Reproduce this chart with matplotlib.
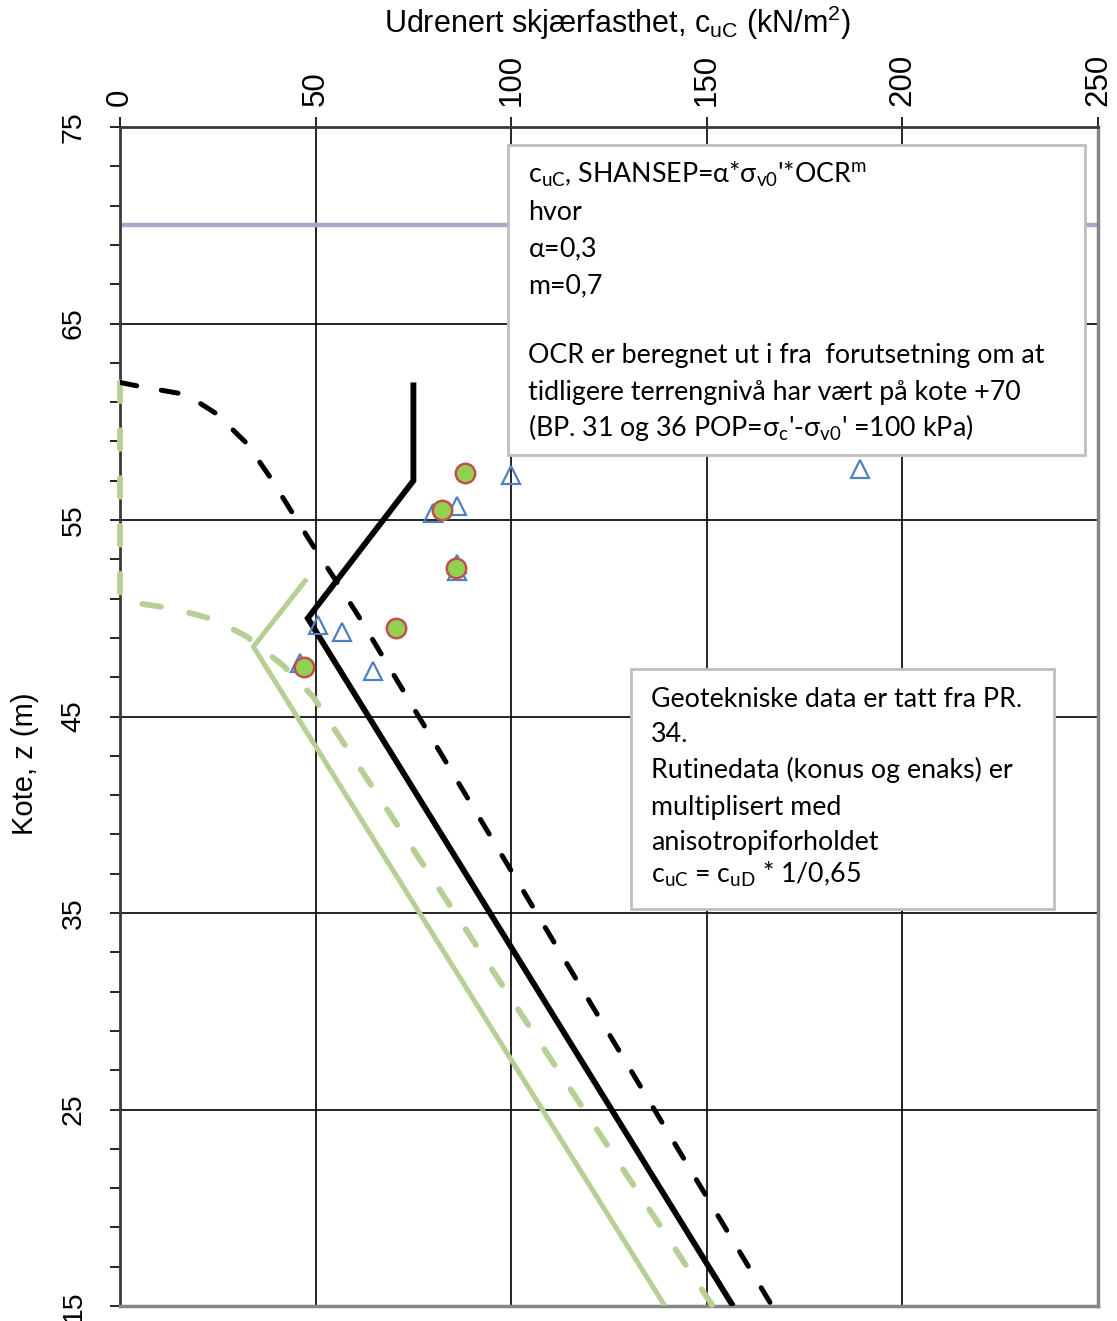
import matplotlib
matplotlib.use("Agg")
import matplotlib.pyplot as plt
from matplotlib.patches import Rectangle
from matplotlib.ticker import FixedLocator

plt.rcParams['mathtext.fontset'] = 'custom'
plt.rcParams['mathtext.default'] = 'regular'
plt.rcParams['mathtext.rm'] = 'Lato'

# ---------------- data ----------------
terrain_level = 70  # previous terrain level (kote)

shansep_x = [0, 5, 15, 20, 24.7, 32.4, 38.3, 44.1, 49.8, 55.4, 61.3, 166.7]
shansep_z = [62, 61.8, 61.45, 61.0, 60.4, 58.9, 57.2, 55.35, 53.55, 51.85, 50.0, 15]

design_x = [75, 75, 48, 156.7]
design_z = [62, 57, 50, 15]

green_dashed_x = [0, 0, 3.4, 14.1, 24.3, 32.4, 41.7, 49.4, 151.5]
green_dashed_z = [62, 51.0, 50.8, 50.47, 49.92, 49.07, 47.6, 46.0, 15]

green_solid_x = [47.7, 34.1, 139.3]
green_solid_z = [52.0, 48.55, 15]

circle_x = [88.2, 82.2, 85.9, 70.6, 47.0]
circle_z = [57.4, 55.5, 52.55, 49.52, 47.53]

tri_x = [100, 189.2, 86.2, 80.1, 86.1, 86.1, 50.7, 56.8, 64.6, 46.0]
tri_z = [57.3, 57.6, 55.7, 55.35, 52.75, 52.4, 49.65, 49.3, 47.3, 47.7]

x_ticks = [0, 50, 100, 150, 200, 250]
y_ticks = [15, 25, 35, 45, 55, 65, 75]

box1_lines = [
    r"c$_{uC}$, SHANSEP=$\alpha$*$\sigma_{v0}$'*OCR$^{m}$",
    "hvor",
    r"$\alpha$=0,3",
    "m=0,7",
    "OCR er beregnet ut i fra  forutsetning om at",
    "tidligere terrengnivå har vært på kote +70",
    r"(BP. 31 og 36 POP=$\sigma_{c}$'-$\sigma_{v0}$' =100 kPa)",
]
box1_baselines_px = [183, 220, 257, 293, 363, 400, 436]

box2_lines = [
    "Geotekniske data er tatt fra PR.",
    "34.",
    "Rutinedata (konus og enaks) er",
    "multiplisert med",
    "anisotropiforholdet",
    r"c$_{uC}$ = c$_{uD}$ * 1/0,65",
]
box2_baselines_px = [707, 742, 778, 815, 850, 883]

# ---------------- figure ----------------
W, H = 1117, 1321
fig = plt.figure(figsize=(W / 100, H / 100), dpi=100)
ax_l, ax_r, ax_t, ax_b = 120, 1098, 127, 1306
ax = fig.add_axes([ax_l / W, 1 - ax_b / H, (ax_r - ax_l) / W, (ax_b - ax_t) / H])
ax.set_xlim(0, 250)
ax.set_ylim(15, 75)

def ay(py):
    return (ax_b - py) / (ax_b - ax_t)

def axx(px):
    return (px - ax_l) / (ax_r - ax_l)

# grid
for v in x_ticks[1:-1]:
    ax.axvline(v, color='black', lw=1.2, zorder=1)
for v in y_ticks[1:-1]:
    ax.axhline(v, color='black', lw=1.2, zorder=1)

# terrain line
ax.axhline(terrain_level, color='#b3a2c7', lw=3.2, zorder=2)

green = '#b5cf94'
ax.plot(green_solid_x, green_solid_z, color=green, lw=3.6, zorder=3,
        solid_capstyle='butt')
ax.plot(green_dashed_x, green_dashed_z, color=green, lw=4.2, zorder=3,
        dashes=(3.2, 5.0), dash_capstyle='round', clip_on=False)
ax.plot(design_x, design_z, color='black', lw=4.2, zorder=4,
        solid_capstyle='butt', solid_joinstyle='miter')
ax.plot(shansep_x, shansep_z, color='black', lw=3.6, zorder=4,
        dashes=(3.4, 5.0), dash_capstyle='round')

ax.plot(tri_x, tri_z, linestyle='none', marker='^', ms=13,
        mfc='none', mec='#4f81bd', mew=1.6, zorder=5)
ax.plot(circle_x, circle_z, linestyle='none', marker='o', ms=14,
        mfc='#92d050', mec='#c0504d', mew=1.8, zorder=6)

# ticks
ax.xaxis.set_ticks_position('top')
ax.xaxis.set_label_position('top')
ax.set_xticks(x_ticks)
ax.set_xticklabels([str(v) for v in x_ticks], rotation=90,
                   family=['Liberation Sans', 'DejaVu Sans'], fontsize=22.5)
ax.set_yticks(y_ticks)
ax.set_yticklabels([str(v) for v in y_ticks], rotation=90,
                   family=['Liberation Sans', 'DejaVu Sans'], fontsize=20.5,
                   va='center')
ax.yaxis.set_minor_locator(FixedLocator(list(range(17, 75, 2))))
ax.tick_params(axis='x', which='major', direction='out', length=7, width=1.2,
               pad=8, colors='black')
ax.tick_params(axis='y', which='major', direction='out', length=7, width=1.2,
               pad=17)
ax.tick_params(axis='y', which='minor', direction='out', length=7, width=1.2)

for s in ['right', 'bottom']:
    ax.spines[s].set_color('#868686')
    ax.spines[s].set_linewidth(2.5)
for s in ['left', 'top']:
    ax.spines[s].set_color('#3a3a3a')
    ax.spines[s].set_linewidth(2.0)

# text boxes
box_font = ['Lato', 'DejaVu Sans']
box_fs = 19.3
ax.add_patch(Rectangle((axx(508), ay(455)), axx(1085) - axx(508), ay(145) - ay(455),
                       transform=ax.transAxes, facecolor='white',
                       edgecolor='#bfbfbf', lw=2, zorder=8))
for line, py in zip(box1_lines, box1_baselines_px):
    ax.text(axx(528), ay(py), line, transform=ax.transAxes, family=box_font,
            fontsize=box_fs, ha='left', va='baseline', zorder=9)

ax.add_patch(Rectangle((axx(631), ay(909)), axx(1054) - axx(631), ay(669) - ay(909),
                       transform=ax.transAxes, facecolor='white',
                       edgecolor='#bfbfbf', lw=2, zorder=8))
for line, py in zip(box2_lines, box2_baselines_px):
    ax.text(axx(651), ay(py), line, transform=ax.transAxes, family=box_font,
            fontsize=box_fs, ha='left', va='baseline', zorder=9)

# titles
narrow = ['Liberation Sans Narrow', 'Liberation Sans', 'DejaVu Sans']
fig.text(618 / W, 1 - 33 / H, r"Udrenert skjærfasthet, c$_{uC}$ (kN/m$^{2}$)",
         family=narrow, fontsize=22, ha='center', va='baseline')
fig.text(25 / W, 1 - 764 / H, "Kote, z (m)", rotation=90,
         family=narrow, fontsize=21, ha='center', va='center')

fig.savefig('out.png', dpi=100)
